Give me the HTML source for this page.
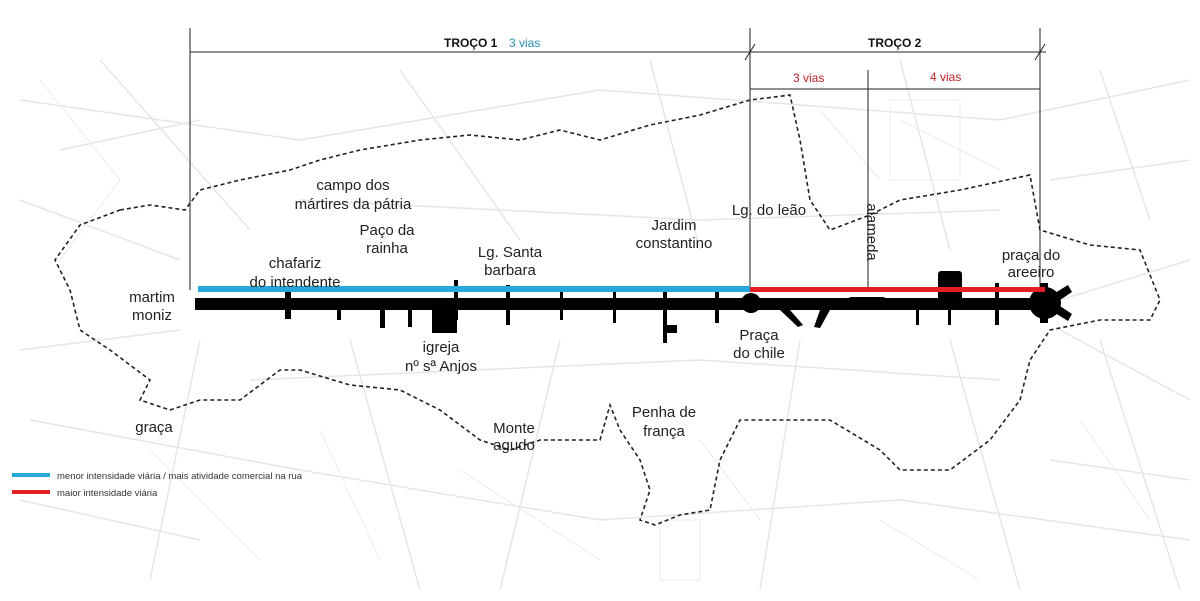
<!DOCTYPE html>
<html><head><meta charset="utf-8"><style>
body{margin:0;background:#fff;}
svg{display:block;font-family:"Liberation Sans",sans-serif;}
</style></head><body>
<svg width="1200" height="601" viewBox="0 0 1200 601" xmlns="http://www.w3.org/2000/svg">
<rect width="1200" height="601" fill="#fff"/>
<g stroke="#e6e6e6" stroke-width="1.5" fill="none">
<path d="M20 100 L300 140 L600 90 L1000 120 L1190 80"/>
<path d="M30 420 L300 470 L600 520 L900 500 L1190 540"/>
<path d="M100 60 L250 230 M400 70 L520 240 M650 60 L700 250 M900 60 L950 250 M1100 70 L1150 220"/>
<path d="M200 340 L150 580 M350 340 L420 590 M560 340 L500 590 M800 340 L760 590 M950 340 L1020 590 M1100 340 L1180 590"/>
<path d="M20 200 L180 260 M20 350 L180 330 M1060 300 L1190 260 M1060 330 L1190 400"/>
<path d="M250 380 L700 360 L1000 380 M300 200 L700 220 L1000 210"/>
<path d="M60 150 L200 120 M1050 180 L1190 160 M20 500 L200 540 M1050 460 L1190 480"/>
</g>
<g stroke="#ececec" stroke-width="1" fill="none">
<path d="M40 80 L120 180 L60 260 M150 450 L260 560 M320 430 L380 560 M460 470 L600 560 M700 440 L760 520 M880 520 L980 580 M1080 420 L1150 520 M900 120 L1000 170 M820 110 L880 180"/>
<rect x="890" y="100" width="70" height="80"/><rect x="660" y="520" width="40" height="60"/>
</g>
<!-- dashed boundary -->
<path d="M120 210 L150 205 L185 210 L200 190 L240 180 L290 170 L320 160 L360 150 L420 140 L470 135 L520 140 L560 130 L600 140 L650 125 L700 115 L750 100 L790 95 L800 140 L810 200 L830 230 L870 215 L900 200 L960 190 L1030 175 L1040 230 L1090 245 L1140 250 L1160 300 L1150 320 L1100 320 L1050 330 L1030 360 L1020 400 L990 440 L950 470 L900 470 L880 450 L830 420 L770 420 L740 420 L720 460 L710 510 L680 515 L655 525 L640 520 L650 490 L640 460 L620 430 L610 405 L600 440 L540 440 L510 450 L480 440 L440 410 L400 390 L350 385 L300 370 L280 370 L240 400 L200 400 L170 410 L140 400 L150 380 L110 350 L80 330 L70 290 L55 260 L80 225 Z" fill="none" stroke="#222" stroke-width="1.6" stroke-dasharray="4,3"/>
<!-- header lines -->
<g stroke="#222" stroke-width="1">
<line x1="190" y1="28" x2="190" y2="290"/>
<line x1="750" y1="28" x2="750" y2="290"/>
<line x1="1040" y1="28" x2="1040" y2="290"/>
<line x1="190" y1="52" x2="1046" y2="52"/>
<line x1="750" y1="89" x2="1040" y2="89"/>
<line x1="868" y1="70" x2="868" y2="290"/>
<line x1="745" y1="60" x2="755" y2="44"/>
<line x1="1035" y1="60" x2="1045" y2="44"/>
</g>
<text x="444" y="47" font-size="12" font-weight="bold" fill="#111">TROÇO 1</text>
<text x="509" y="47" font-size="12" fill="#2a8fb0">3 vias</text>
<text x="868" y="47" font-size="12" font-weight="bold" fill="#111">TROÇO 2</text>
<text x="793" y="82" font-size="12" fill="#c0202a">3 vias</text>
<text x="930" y="81" font-size="12" fill="#c0202a">4 vias</text>
<!-- main road -->
<g fill="#000">
<rect x="195" y="298" width="850" height="12"/>
<rect x="285" y="292" width="6" height="27"/>
<rect x="337" y="300" width="4" height="20"/>
<rect x="380" y="300" width="5" height="28"/>
<rect x="408" y="300" width="4" height="27"/>
<rect x="432" y="300" width="25" height="33"/>
<rect x="454" y="280" width="4" height="40"/>
<rect x="506" y="285" width="4" height="40"/>
<rect x="560" y="288" width="3" height="32"/>
<rect x="613" y="288" width="3" height="35"/>
<rect x="663" y="288" width="4" height="55"/>
<rect x="663" y="325" width="14" height="8"/>
<rect x="715" y="288" width="4" height="35"/>
<circle cx="751" cy="303" r="10"/>
<polygon points="780,310 790,310 803,325 798,327"/>
<polygon points="820,310 830,310 820,328 814,327"/>
<rect x="848" y="297" width="38" height="11" rx="3"/>
<rect x="916" y="300" width="3" height="25"/>
<rect x="948" y="300" width="3" height="25"/>
<rect x="938" y="271" width="24" height="30" rx="3"/>
<rect x="995" y="283" width="4" height="42"/>
<circle cx="1045" cy="303" r="16"/>
<polygon points="1055,293 1068,285 1072,292 1060,300"/>
<polygon points="1055,313 1068,321 1072,314 1060,306"/>
<rect x="1040" y="283" width="8" height="40"/>
</g>
<rect x="198" y="286" width="552" height="6" fill="#27a8dc"/>
<rect x="750" y="287" width="295" height="5" fill="#e31e24"/>
<!-- labels -->
<g font-size="15" fill="#222" text-anchor="middle">
<text x="353" y="190">campo dos</text><text x="353" y="209">mártires da pátria</text>
<text x="387" y="235">Paço da</text><text x="387" y="253">rainha</text>
<text x="295" y="268">chafariz</text><text x="295" y="287">do intendente</text>
<text x="510" y="257">Lg. Santa</text><text x="510" y="275">barbara</text>
<text x="674" y="230">Jardim</text><text x="674" y="248">constantino</text>
<text x="769" y="215">Lg. do leão</text>
<text x="1031" y="260">praça do</text><text x="1031" y="277">areeiro</text>
<text x="152" y="302">martim</text><text x="152" y="320">moniz</text>
<text x="441" y="352">igreja</text><text x="441" y="371">nº sª Anjos</text>
<text x="759" y="340">Praça</text><text x="759" y="358">do chile</text>
<text x="154" y="432">graça</text>
<text x="514" y="433">Monte</text><text x="514" y="450">agudo</text>
<text x="664" y="417">Penha de</text><text x="664" y="436">frança</text>
<text x="0" y="0" transform="translate(867,232) rotate(90)" text-anchor="middle">alameda</text>
</g>
<!-- legend -->
<rect x="12" y="473" width="38" height="4" fill="#27a8dc"/>
<rect x="12" y="490" width="38" height="4" fill="#e31e24"/>
<text x="57" y="479" font-size="9.5" fill="#333">menor intensidade viária / mais atividade comercial  na rua</text>
<text x="57" y="496" font-size="9.5" fill="#333">maior intensidade viária</text>
</svg>
</body></html>
